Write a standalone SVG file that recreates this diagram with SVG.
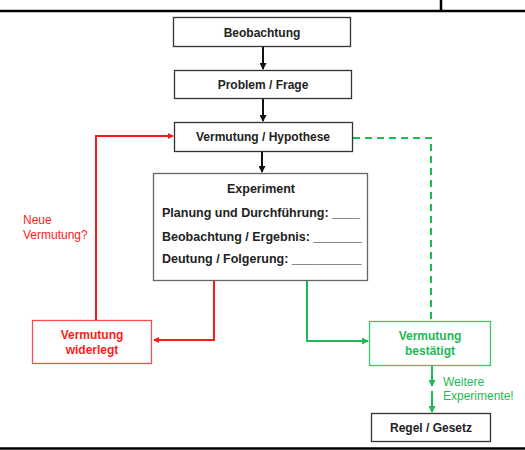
<svg xmlns="http://www.w3.org/2000/svg" width="525" height="450" viewBox="0 0 525 450">
<style>
.box{fill:#fff;stroke:#333;stroke-width:1.3}
.t{font-family:"Liberation Sans",Arial,sans-serif;font-size:12px;font-weight:bold;fill:#222}
.e{font-size:12.5px}
.red{fill:#ff1a1a}
.grn{fill:#1db954}
.n{font-weight:normal}
</style>
<defs>
<marker id="ab" markerWidth="7" markerHeight="7" refX="6" refY="3.5" orient="auto" markerUnits="userSpaceOnUse"><path d="M0,0L7,3.5L0,7z" fill="#111"/></marker>
<marker id="ar" markerWidth="6" markerHeight="6" refX="5" refY="3" orient="auto" markerUnits="userSpaceOnUse"><path d="M0,0L6,3L0,6z" fill="#ff1a1a"/></marker>
<marker id="ag" markerWidth="7" markerHeight="7" refX="6" refY="3.5" orient="auto" markerUnits="userSpaceOnUse"><path d="M0,0L7,3.5L0,7z" fill="#1db954"/></marker>
</defs>
<g id="frame" stroke="#000" stroke-width="2.5" fill="none">
<line x1="0" y1="11" x2="525" y2="11"/>
<line x1="441" y1="0" x2="441" y2="11"/>
<line x1="0" y1="448.5" x2="525" y2="448.5"/>
</g>
<g id="connectors" fill="none">
<g stroke="#111" stroke-width="2">
<line x1="263" y1="47" x2="263" y2="69" marker-end="url(#ab)"/>
<line x1="263" y1="98" x2="263" y2="121" marker-end="url(#ab)"/>
<line x1="262" y1="151" x2="262" y2="172" marker-end="url(#ab)"/>
</g>
<g stroke="#ff1a1a" stroke-width="2">
<polyline points="214,281 214,340 154,340" marker-end="url(#ar)"/>
<polyline points="96,320 96,136 173,136" marker-end="url(#ar)"/>
</g>
<g stroke="#1db954" stroke-width="2">
<polyline points="307,281 307,341 368,341" marker-end="url(#ag)"/>
<polyline points="353,138 431,138 431,321" stroke-dasharray="7,5"/>
<line x1="432" y1="366" x2="432" y2="386" marker-end="url(#ag)"/>
<line x1="432" y1="391" x2="432" y2="412" marker-end="url(#ag)"/>
</g>
</g>
<g id="beobachtung">
<rect class="box" x="173.5" y="17.5" width="177" height="29"/>
<text class="t" x="262" y="36.5" text-anchor="middle">Beobachtung</text>
</g>
<g id="problem">
<rect class="box" x="174.5" y="70.5" width="177" height="28"/>
<text class="t" x="263" y="89" text-anchor="middle">Problem / Frage</text>
</g>
<g id="hypothese">
<rect class="box" x="174.5" y="122.5" width="178" height="29"/>
<text class="t" x="263" y="141" text-anchor="middle">Vermutung / Hypothese</text>
</g>
<g id="experiment">
<rect class="box" x="153.5" y="173.5" width="214" height="107" style="stroke:#666"/>
<text class="t e" x="261" y="193" text-anchor="middle">Experiment</text>
<text class="t e" x="162" y="217">Planung und Durchführung: ____</text>
<text class="t e" x="162" y="241">Beobachtung / Ergebnis: _______</text>
<text class="t e" x="162" y="263">Deutung / Folgerung: __________</text>
</g>
<g id="neue-vermutung">
<text class="t n red" x="23" y="224">Neue</text>
<text class="t n red" x="23" y="239">Vermutung?</text>
</g>
<g id="widerlegt">
<rect x="32.5" y="320.5" width="119" height="43" fill="#fff" stroke="#ff4d4d" stroke-width="1.3"/>
<text class="t red" x="92" y="339" text-anchor="middle">Vermutung</text>
<text class="t red" x="92" y="354" text-anchor="middle">widerlegt</text>
</g>
<g id="bestaetigt">
<rect x="369.5" y="321.5" width="121" height="44" fill="#fff" stroke="#3cc46a" stroke-width="1.3"/>
<text class="t grn" x="430" y="340" text-anchor="middle">Vermutung</text>
<text class="t grn" x="430" y="355" text-anchor="middle">bestätigt</text>
</g>
<g id="weitere">
<text class="t n grn" x="443" y="386">Weitere</text>
<text class="t n grn" x="443" y="400">Experimente!</text>
</g>
<g id="regel">
<rect class="box" x="371.5" y="413.5" width="119" height="28"/>
<text class="t" x="431" y="432" text-anchor="middle">Regel / Gesetz</text>
</g>
</svg>
